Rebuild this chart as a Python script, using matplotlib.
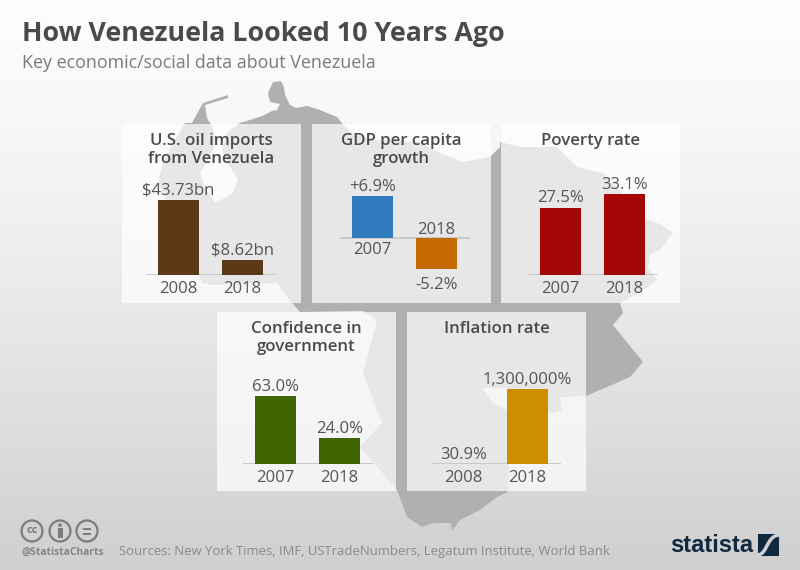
import matplotlib
matplotlib.use("Agg")
import matplotlib.pyplot as plt
import numpy as np
from matplotlib.patches import Polygon, Rectangle, Circle, PathPatch
from matplotlib.path import Path

plt.rcParams['font.family'] = ['Open Sans', 'DejaVu Sans']

W, H = 800, 570

# chart data
titles = ["U.S. oil imports\nfrom Venezuela", "GDP per capita\ngrowth", "Poverty rate",
          "Confidence in\ngovernment", "Inflation rate"]
years = [["2008", "2018"], ["2007", "2018"], ["2007", "2018"], ["2007", "2018"], ["2008", "2018"]]
oil_imports = [43.73, 8.62]
gdp_growth = [6.9, -5.2]
poverty = [27.5, 33.1]
confidence = [63.0, 24.0]
inflation = [30.9, 1300000]
series = [oil_imports, gdp_growth, poverty, confidence, inflation]
value_labels = [["$43.73bn", "$8.62bn"], ["+6.9%", "-5.2%"], ["27.5%", "33.1%"],
                ["63.0%", "24.0%"], ["30.9%", "1,300,000%"]]
bar_colors = [["#5c3a17", "#5c3a17"], ["#327abf", "#c46a00"], ["#a50707", "#a50707"],
              ["#3f6600", "#3f6600"], ["#cc8f00", "#cc8f00"]]

# panel layout in pixels: panel left, panel top, baseline left, top of axes, bottom of axes
layout = [(122, 124, 146, 200, 275), (312, 124, 340, 196, 269), (501, 124, 528, 194, 275),
          (217, 312, 243, 396, 464), (407, 312, 431, 389, 464)]

# map outline behind the panels, pixels
map_outline = [(228, 95), (228, 98), (205, 105), (207, 118), (213, 128), (215, 137), (213, 150), (208, 160),
               (200, 173), (205, 187), (215, 203), (233, 193), (238, 180), (228, 163), (222, 150), (227, 133),
               (240, 123), (250, 120), (262, 116), (272, 111), (277, 110), (280, 104), (270, 102), (268, 93),
               (273, 82), (281, 81), (284, 87), (285, 95), (290, 105), (296, 108), (307, 106), (320, 110),
               (337, 117), (350, 133), (373, 140), (420, 142), (433, 150), (463, 162), (490, 157), (500, 147),
               (500, 142), (520, 147), (557, 147), (577, 167), (603, 173), (647, 220), (660, 224), (673, 233),
               (660, 250), (650, 254), (648, 268), (657, 280), (640, 292), (620, 303), (623, 313), (613, 325),
               (643, 362), (630, 377), (607, 387), (586, 396), (560, 397), (562, 410), (550, 413), (530, 395),
               (507, 388), (482, 388), (493, 403), (507, 410), (510, 450), (508, 492), (497, 497), (480, 510),
               (460, 520), (452, 531), (451, 523), (433, 523), (422, 527), (407, 517), (397, 490), (360, 447),
               (382, 423), (363, 373), (377, 320), (363, 311), (300, 312), (287, 297), (277, 283), (212, 285),
               (202, 283), (195, 265), (158, 183), (163, 163), (173, 143), (185, 123), (192, 123), (198, 112),
               (203, 103)]

fig = plt.figure(figsize=(W / 100, H / 100), dpi=100)
bg = fig.add_axes([0, 0, 1, 1])
bg.set_xlim(0, W)
bg.set_ylim(H, 0)
bg.axis("off")

# background fades from white to grey
grad = np.linspace(0, 1, H).reshape(-1, 1)
bg.imshow(0.99 - 0.18 * grad ** 1.3, cmap="gray", vmin=0, vmax=1, extent=[0, W, H, 0], aspect="auto", zorder=0)
bg.add_patch(Polygon(map_outline, closed=True, fc="#b0b0b0", ec="none", zorder=1))

for i in range(5):
    px, py, bx, ax_top, ax_bot = layout[i]
    bg.add_patch(Rectangle((px, py), 179, 179, fc="white", ec="none", alpha=0.7, zorder=2))
    bg.text(px + 89.5, py + 9, titles[i], ha="center", va="top", fontsize=12.1, fontweight="semibold",
            color="#4a4a4a", linespacing=1.2, zorder=3)

    ax = fig.add_axes([bx / W, 1 - ax_bot / H, 130 / W, (ax_bot - ax_top) / H])
    ax.patch.set_alpha(0)
    vals = series[i]
    ax.bar([0, 1], vals, width=0.65, color=bar_colors[i])
    ax.axhline(0, color="#c4c4c4", lw=1.2, zorder=0)
    ax.set_xlim(-0.508, 1.523)
    if min(vals) < 0:
        ax.set_ylim(min(vals), max(vals))
    else:
        ax.set_ylim(0, max(vals))
    ax.axis("off")

    for j in range(2):
        v = vals[j]
        if v < 0:
            # negative bar: year above the axis, value under the bar
            ax.annotate(value_labels[i][j], (j, v), xytext=(0, -6), textcoords="offset points", ha="center",
                        va="top", fontsize=12, color="#555555", annotation_clip=False)
            ax.annotate(years[i][j], (j, 0), xytext=(0, 0), textcoords="offset points", ha="center",
                        va="bottom", fontsize=12, color="#555555", annotation_clip=False)
        else:
            ax.annotate(value_labels[i][j], (j, v), xytext=(0, 1), textcoords="offset points", ha="center",
                        va="bottom", fontsize=12, color="#555555", annotation_clip=False)
            year_gap = -3 if min(vals) < 0 else -4.5
            ax.annotate(years[i][j], (j, 0), xytext=(0, year_gap), textcoords="offset points", ha="center",
                        va="top", fontsize=12, color="#555555", annotation_clip=False)

bg.text(22, 34, "How Venezuela Looked 10 Years Ago", fontsize=19.3, fontweight="bold", color="#4a4a4a",
        va="center", zorder=5)
bg.text(22, 63, "Key economic/social data about Venezuela", fontsize=12.9, color="#7a7a7a", va="center", zorder=5)

# licence icons
for cx in [32, 60, 87]:
    bg.add_patch(Circle((cx, 531), 10.5, fc="none", ec="#7c7c7c", lw=1.6, zorder=5))
bg.text(32, 530.5, "cc", ha="center", va="center", fontsize=8, fontweight="bold", color="#7c7c7c", zorder=5)
bg.add_patch(Circle((60, 525), 1.8, fc="#7c7c7c", ec="none", zorder=5))
bg.add_patch(Rectangle((57.5, 528), 5, 10, fc="#7c7c7c", ec="none", zorder=5))
bg.add_patch(Rectangle((83, 527.5), 8, 2, fc="#7c7c7c", ec="none", zorder=5))
bg.add_patch(Rectangle((83, 532.5), 8, 2, fc="#7c7c7c", ec="none", zorder=5))

bg.text(22, 552, "@StatistaCharts", fontsize=7.4, fontweight="bold", color="#868686", va="center", zorder=5)
bg.text(119, 551, "Sources: New York Times, IMF, USTradeNumbers, Legatum Institute, World Bank", fontsize=9.47,
        color="#8a8a8a", va="center", zorder=5)

# statista logo
bg.text(670, 546, "statista", fontsize=17, fontweight="bold", family=["Liberation Sans", "DejaVu Sans"],
        color="#10293f", va="center", zorder=5)
bg.add_patch(Rectangle((758, 534), 21, 22, fc="#10293f", ec="none", zorder=5))
s_curve = Path([(757, 555), (768, 555), (766, 535), (780, 535)], [Path.MOVETO, Path.CURVE4, Path.CURVE4, Path.CURVE4])
bg.add_patch(PathPatch(s_curve, fc="none", ec="#d0d0d0", lw=2.5, zorder=6))

fig.savefig("out.png", dpi=100)
